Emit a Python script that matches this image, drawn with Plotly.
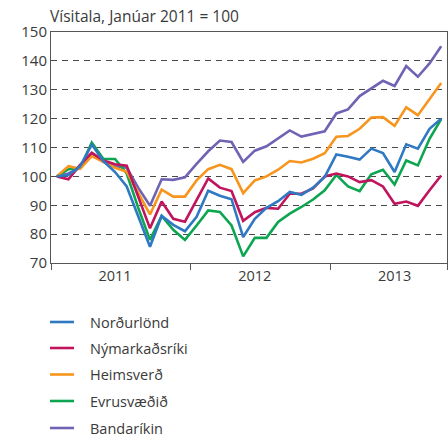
import plotly.graph_objects as go

months = list(range(34))  # Jan 2011 .. Oct 2013 (month index)

nordurlond = [100, 100.5, 103.5, 111, 105.3, 101.5, 96.5, 86, 75.6, 86.3, 83.2, 81,
              86, 95, 93.3, 92.1, 79, 85.3, 89.1, 91.4, 94.6, 93.6, 96.1, 99.8,
              107.6, 106.8, 105.8, 109.6, 108.1, 101.5, 111.1, 109.6, 116.5, 120]
nymarkadsriki = [100, 99, 104, 108.2, 105.5, 104.2, 103.7, 92.5, 82, 91.3, 85.3, 84.3,
                 92, 99.3, 96.1, 94.9, 84.6, 87.6, 89.1, 88.8, 94, 94, 95.8, 100,
                 101, 100, 98, 98.7, 96.5, 90.5, 91.3, 89.8, 95.2, 100.3]
heimsverd = [100, 103.5, 102.6, 107, 105, 103, 101.6, 94, 86.8, 95.4, 93, 93,
             98.6, 102.5, 104, 102.5, 94.2, 98.6, 100, 102.3, 105.3, 104.8, 106.1, 108,
             113.7, 114, 116.5, 120.4, 120.5, 117.5, 123.9, 121.2, 126.8, 132.3]
evrusvaedid = [100, 102.5, 103, 111.7, 106, 106, 101, 89, 78, 86.3, 81.5, 78,
               83, 88.2, 87.7, 83, 72.3, 78.7, 78.7, 84.2, 87.1, 89.4, 92, 95.2,
               100.5, 96.5, 94.9, 100.7, 102.3, 97.2, 105.5, 103.8, 113, 119.8]
bandarikin = [100, 101, 103, 107.5, 105, 103.5, 103, 96, 89.8, 99, 98.8, 99.7,
              104.3, 108.7, 112.4, 111.9, 105, 108.9, 110.4, 113, 115.9, 113.8, 114.6, 115.6,
              121.8, 123.2, 127.8, 130.4, 133.1, 131.3, 138.2, 134.5, 139.1, 145.1]

series_names = ["Norðurlönd", "Nýmarkaðsríki", "Heimsverð", "Evrusvæðið", "Bandaríkin"]
series_values = [nordurlond, nymarkadsriki, heimsverd, evrusvaedid, bandarikin]
series_colors = ["#2f79c3", "#c0145c", "#f7951e", "#0ca550", "#6f64b3"]

year_labels = ["2011", "2012", "2013"]
year_label_pos = [5, 17, 29]
year_bounds = [-0.5, 11.5, 23.5, 33.5]
y_ticks = [70, 80, 90, 100, 110, 120, 130, 140, 150]

FONT = "Open Sans"
TXT = "#3a3a3a"
AX = "#555555"

# plot area in pixels (legend key is laid out below it)
PLOT_L, PLOT_TOP, PLOT_W, PLOT_H = 51, 32, 396, 231
key_rows_px = [322, 348, 374.5, 401, 428]
KEY_X0, KEY_X1, KEY_TEXT_X = 50, 74, 88


def px_to_paper_x(px):
    return (px - PLOT_L) / PLOT_W


def px_to_paper_y(py):
    return 1 - (py - PLOT_TOP) / PLOT_H


fig = go.Figure()
# draw bottom-most first (Bandaríkin), top-most last (Norðurlönd)
for name, vals, col in reversed(list(zip(series_names, series_values, series_colors))):
    fig.add_trace(go.Scatter(
        x=months, y=vals, mode="lines", name=name, showlegend=False,
        line=dict(color=col, width=2.6),
    ))

# legend key below the plot
for name, col, py in zip(series_names, series_colors, key_rows_px):
    fig.add_shape(type="line", xref="paper", yref="paper",
                  x0=px_to_paper_x(KEY_X0), x1=px_to_paper_x(KEY_X1),
                  y0=px_to_paper_y(py), y1=px_to_paper_y(py),
                  line=dict(color=col, width=2.6))
    fig.add_annotation(text=name, xref="paper", yref="paper",
                       x=px_to_paper_x(KEY_TEXT_X), xanchor="left",
                       y=px_to_paper_y(py), yanchor="middle",
                       showarrow=False,
                       font=dict(family=FONT, size=14.5, color=TXT))

fig.update_layout(
    width=448, height=437,
    margin=dict(l=PLOT_L, r=1, t=PLOT_TOP, b=174, autoexpand=False),
    paper_bgcolor="white", plot_bgcolor="white",
    font=dict(family=FONT, size=14, color=TXT),
    title=dict(text="Vísitala, Janúar 2011 = 100", x=50 / 448, xanchor="left",
               xref="container", yref="container",
               y=1 - 17 / 437, yanchor="middle",
               font=dict(family=FONT, size=15.5, color=TXT)),
    showlegend=False,
    xaxis=dict(
        range=[-0.5, 33.5], showgrid=False, zeroline=False,
        showline=True, linecolor=AX, linewidth=1, mirror=True,
        tickmode="array", tickvals=year_label_pos, ticktext=year_labels,
        ticks="", tickfont=dict(family=FONT, size=14.5, color=TXT),
        minor=dict(tickmode="array", tickvals=year_bounds, ticks="outside",
                   ticklen=6, tickwidth=1, tickcolor=AX, showgrid=False),
    ),
    yaxis=dict(
        range=[70, 150], tickmode="array", tickvals=y_ticks,
        showgrid=True, gridcolor="#4a4a4a", gridwidth=1, griddash="6px,5px",
        zeroline=False, showline=True, linecolor=AX, linewidth=1, mirror=True,
        ticks="", tickfont=dict(family=FONT, size=15, color=TXT),
    ),
)

fig.write_html("out.html", config={"displayModeBar": False},
               post_script="document.body.style.margin='0px';")
